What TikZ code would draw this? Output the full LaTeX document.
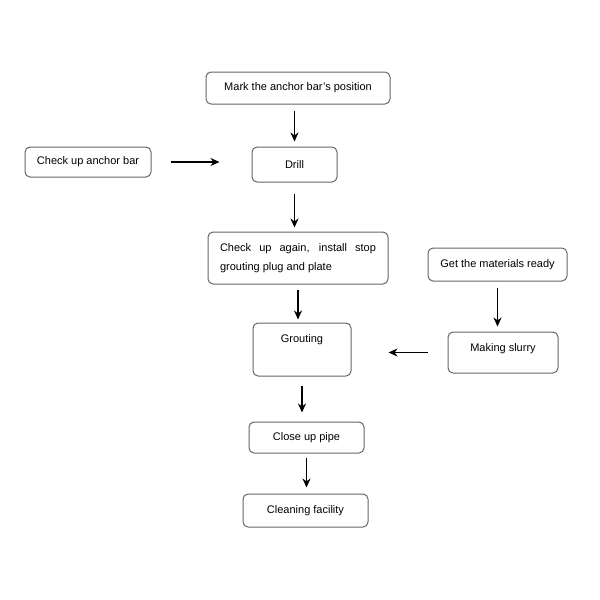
\documentclass[tikz,border=0pt]{standalone}
\usepackage{fontspec}
\setmainfont{Liberation Sans}
\usetikzlibrary{arrows.meta}

\begin{document}
\begin{tikzpicture}[x=1pt,y=-1pt,
box/.style={draw=black!60,line width=1pt,rounded corners=5pt,inner sep=0pt,font=\fontsize{11}{13}\selectfont},
flow/.style={-{Stealth[length=9pt,width=8pt]},line width=1.6pt}]
\useasboundingbox (0,0) rectangle (600,600);
\node[box,minimum width=184pt,minimum height=32pt](mark)at(298,88){Mark the anchor bar's position};
\node[box,minimum width=85pt,minimum height=35pt](drill)at(294.5,164.5){Drill};
\node[box,minimum width=126pt,minimum height=30pt](anchor)at(88,162){Check up anchor bar};
\node[box,minimum width=180pt,minimum height=52pt,text width=156pt,align=justify,
  font=\fontsize{11}{19}\selectfont](again)at(298,258){Check up again, install stop grouting plug and plate};
\node[box,minimum width=98pt,minimum height=53pt,
  label={[anchor=north,inner sep=0pt,yshift=-12pt,font=\fontsize{11}{13}\selectfont]north:Grouting}](grout)at(302,349.5){};
\node[box,minimum width=139pt,minimum height=33pt](mat)at(497.5,264.5){Get the materials ready};
\node[box,minimum width=110pt,minimum height=41pt,text depth=10pt](slurry)at(503,352.5){Making slurry};
\node[box,minimum width=115pt,minimum height=31pt](close)at(306.5,437.5){Close up pipe};
\node[box,minimum width=125pt,minimum height=33pt](clean)at(305.5,510.5){Cleaning facility};
%arrows
\draw[flow,shorten <=6pt,shorten >=5pt](mark.south -| drill.north)--(drill.north);
\draw[flow,shorten <=19pt,shorten >=32pt](anchor.east)--(anchor.east -| drill.west);
\draw[flow,shorten <=11pt,shorten >=4pt](drill.south)--(drill.south |- again.north);
\draw[flow,shorten <=5pt,shorten >=3pt](again.south)--(again.south |- grout.north);
\draw[flow,shorten <=6pt,shorten >=5pt](mat.south)--(mat.south |- slurry.north);
\draw[flow,shorten <=20pt,shorten >=37pt](slurry.west)--(slurry.west -| grout.east);
\draw[flow,shorten <=9pt,shorten >=9pt](grout.south)--(grout.south |- close.north);
\draw[flow,shorten <=4pt,shorten >=6pt](close.south)--(close.south |- clean.north);
\end{tikzpicture}
\end{document}
